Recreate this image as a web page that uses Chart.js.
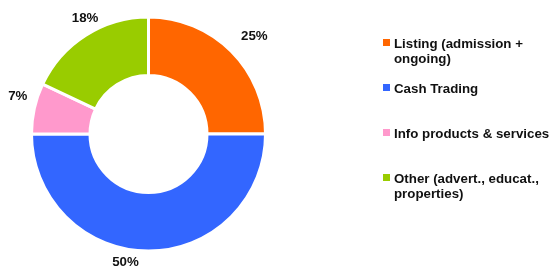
<!DOCTYPE html>
<html lang="en">
<head>
    <meta charset="UTF-8" />
    <title>Revenue split</title>
    <script src="https://cdn.jsdelivr.net/npm/chart.js@4.4.0/dist/chart.umd.min.js"></script>
    <style>
        html, body { margin: 0; padding: 0; background: #fff; }
        .wrap { position: relative; width: 552px; height: 266px; overflow: hidden; }
        .wrap canvas { position: absolute; left: 0; top: 0; }
        .legend { position: absolute; left: 383px; top: 36px; margin: 0; padding: 0; list-style: none;
                  font: bold 13.3px "Liberation Sans", Arial, sans-serif; color: #111; }
        .legend li { position: relative; height: 45px; padding-left: 11px; line-height: 15px; }
        .legend .box { position: absolute; left: 0; top: 3px; width: 7px; height: 7px; }
    </style>
</head>
<body>
    <div class="wrap">
        <canvas id="revChart" width="552" height="266"></canvas>
        <ul class="legend" id="legend"></ul>
    </div>

    <script>
        // data
        const categories = [
            ['Listing (admission +', 'ongoing)'],
            ['Cash Trading'],
            ['Info products & services'],
            ['Other (advert., educat.,', 'properties)']
        ];
        const shares = [25, 50, 7, 18];
        const colors = ['#FF6600', '#3366FF', '#FF99CC', '#99CC00'];

        // small nudges so the % labels sit where the original had them
        const labelNudge = [[9, -1], [-23, -9], [3, -8], [10, 0]];

        const pctLabels = {
            id: 'pctLabels',
            afterDatasetsDraw(chart) {
                const ctx = chart.ctx;
                const meta = chart.getDatasetMeta(0);
                ctx.save();
                ctx.font = 'bold 13.3px "Liberation Sans", Arial, sans-serif';
                ctx.fillStyle = '#111';
                ctx.textAlign = 'center';
                ctx.textBaseline = 'middle';
                meta.data.forEach((arc, i) => {
                    const p = arc.getProps(['x', 'y', 'startAngle', 'endAngle', 'outerRadius'], true);
                    const mid = (p.startAngle + p.endAngle) / 2;
                    const r = p.outerRadius + 20;
                    const x = p.x + Math.cos(mid) * r + labelNudge[i][0];
                    const y = p.y + Math.sin(mid) * r + labelNudge[i][1];
                    ctx.fillText(shares[i] + '%', x, y);
                });
                ctx.restore();
            }
        };

        new Chart(document.getElementById('revChart'), {
            type: 'doughnut',
            data: {
                labels: categories.map(c => c.join(' ')),
                datasets: [{
                    data: shares,
                    backgroundColor: colors,
                    borderColor: '#fff',
                    borderWidth: 3
                }]
            },
            options: {
                responsive: false,
                animation: false,
                cutout: '50%',
                layout: { padding: { left: 30, right: 285, top: 15, bottom: 13 } },
                plugins: {
                    legend: { display: false },
                    tooltip: { enabled: false }
                }
            },
            plugins: [pctLabels]
        });

        // legend
        const ul = document.getElementById('legend');
        categories.forEach((lines, i) => {
            const li = document.createElement('li');
            const box = document.createElement('span');
            box.className = 'box';
            box.style.background = colors[i];
            li.appendChild(box);
            li.appendChild(document.createTextNode(lines[0]));
            for (let k = 1; k < lines.length; k++) {
                li.appendChild(document.createElement('br'));
                li.appendChild(document.createTextNode(lines[k]));
            }
            ul.appendChild(li);
        });
    </script>
</body>
</html>
